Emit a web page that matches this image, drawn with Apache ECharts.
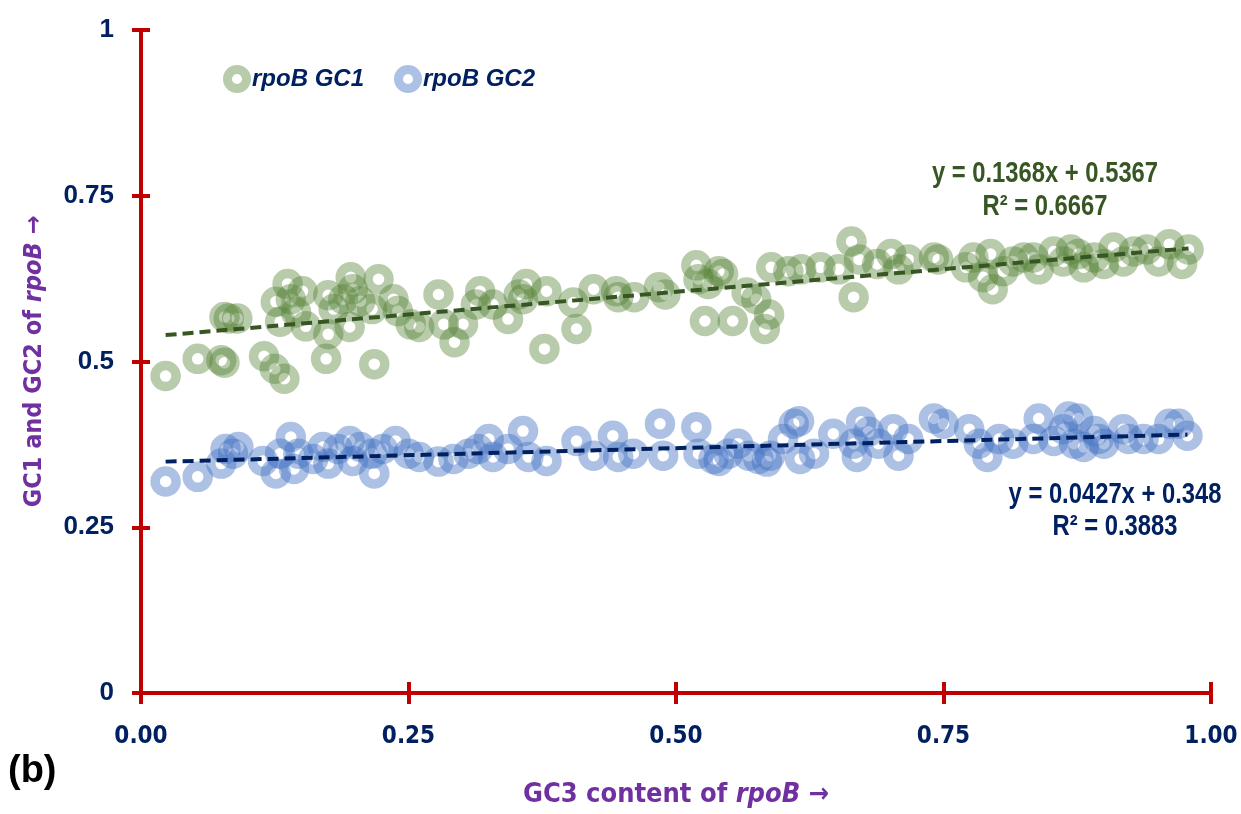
<!DOCTYPE html>
<html>
<head>
<meta charset="utf-8">
<script src="https://cdn.jsdelivr.net/npm/echarts@6/dist/echarts.min.js"></script>
<style>html,body{margin:0;padding:0;background:#fff}#c{width:1241px;height:814px}</style>
</head>
<body>
<div id="c"></div>
<script>
// ---- data ----
const gc1X = [0.023,0.053,0.075,0.078,0.078,0.082,0.09,0.115,0.125,0.134,0.126,0.13,0.137,0.14,0.145,0.154,0.151,0.173,0.175,0.175,0.18,0.189,0.196,0.198,0.195,0.205,0.216,0.218,0.222,0.236,0.24,0.252,0.26,0.278,0.283,0.293,0.301,0.313,0.317,0.329,0.343,0.353,0.36,0.357,0.379,0.377,0.407,0.404,0.423,0.444,0.446,0.461,0.484,0.49,0.519,0.521,0.527,0.53,0.54,0.544,0.553,0.566,0.575,0.583,0.587,0.589,0.605,0.617,0.635,0.652,0.664,0.666,0.671,0.688,0.701,0.708,0.717,0.741,0.745,0.771,0.778,0.794,0.787,0.796,0.806,0.815,0.825,0.834,0.839,0.853,0.862,0.869,0.876,0.881,0.891,0.9,0.909,0.918,0.928,0.94,0.951,0.961,0.973,0.979];
const gc1Y = [0.478,0.504,0.502,0.498,0.567,0.565,0.565,0.508,0.489,0.474,0.59,0.56,0.617,0.594,0.574,0.553,0.606,0.504,0.6,0.541,0.579,0.594,0.627,0.609,0.552,0.591,0.579,0.496,0.624,0.594,0.576,0.556,0.552,0.601,0.556,0.529,0.556,0.586,0.606,0.586,0.564,0.601,0.617,0.594,0.606,0.519,0.549,0.589,0.609,0.606,0.597,0.597,0.612,0.601,0.645,0.624,0.561,0.617,0.636,0.632,0.561,0.604,0.594,0.549,0.571,0.642,0.636,0.639,0.642,0.639,0.681,0.597,0.654,0.647,0.662,0.639,0.654,0.657,0.654,0.642,0.657,0.662,0.627,0.609,0.636,0.651,0.657,0.657,0.639,0.666,0.651,0.669,0.662,0.642,0.657,0.647,0.672,0.651,0.666,0.669,0.651,0.677,0.647,0.669];
const gc2X = [0.023,0.053,0.075,0.079,0.086,0.091,0.114,0.126,0.13,0.14,0.143,0.147,0.161,0.17,0.175,0.184,0.195,0.198,0.205,0.216,0.218,0.226,0.238,0.25,0.26,0.278,0.292,0.306,0.315,0.325,0.329,0.343,0.357,0.362,0.379,0.407,0.423,0.441,0.446,0.46,0.485,0.488,0.519,0.521,0.535,0.54,0.549,0.558,0.568,0.577,0.585,0.588,0.6,0.61,0.615,0.616,0.629,0.647,0.666,0.669,0.673,0.68,0.689,0.703,0.708,0.717,0.741,0.75,0.774,0.783,0.791,0.802,0.815,0.834,0.839,0.853,0.862,0.867,0.872,0.876,0.881,0.891,0.895,0.9,0.918,0.923,0.937,0.951,0.961,0.97,0.978];
const gc2Y = [0.319,0.326,0.346,0.368,0.361,0.371,0.35,0.331,0.361,0.386,0.338,0.361,0.353,0.371,0.346,0.368,0.38,0.35,0.371,0.361,0.331,0.368,0.38,0.361,0.356,0.349,0.353,0.361,0.368,0.383,0.356,0.368,0.395,0.356,0.35,0.38,0.358,0.388,0.356,0.361,0.406,0.358,0.401,0.361,0.353,0.35,0.361,0.376,0.358,0.353,0.349,0.358,0.383,0.406,0.41,0.353,0.361,0.391,0.376,0.356,0.409,0.394,0.376,0.398,0.358,0.383,0.414,0.406,0.398,0.376,0.356,0.383,0.376,0.383,0.414,0.38,0.398,0.417,0.376,0.414,0.371,0.395,0.383,0.376,0.398,0.383,0.383,0.383,0.406,0.406,0.388];
const seriesNames = ['rpoB GC1', 'rpoB GC2'];
const slopes = [0.1368, 0.0427];
const intercepts = [0.5367, 0.348];
const r2 = ['0.6667', '0.3883'];
const yTicks = [0, 0.25, 0.5, 0.75, 1];
const xTicks = [0, 0.25, 0.5, 0.75, 1];

// ---- build ----
const zip = (xs, ys) => xs.map((x, i) => [x, ys[i]]);
const fitLine = (xs, k) => {
  const lo = Math.min(...xs), hi = Math.max(...xs);
  return [[lo, slopes[k] * lo + intercepts[k]], [hi, slopes[k] * hi + intercepts[k]]];
};
const RED = '#C00000', NAVY = '#002060', PURPLE = '#7030A0';
const GREEN_DARK = '#375623';
const NARROW = "'Liberation Sans Narrow','Arial Narrow','DejaVu Sans Condensed',sans-serif";
const ARIAL = "'Liberation Sans',Arial,sans-serif";
const ring = 'path://M0,-10 A10,10 0 1,0 0,10 A10,10 0 1,0 0,-10 Z M0,-3.6 A3.6,3.6 0 1,1 0,3.6 A3.6,3.6 0 1,1 0,-3.6 Z';
const greenRing = 'rgba(84,130,53,0.52)';
const blueRing = 'rgba(68,114,196,0.55)';

const chart = echarts.init(document.getElementById('c'), null, {renderer: 'canvas'});
const grid = {left: 141, right: 30, top: 30, bottom: 121, containLabel: false};
const axisBase = {min: 0, max: 1, interval: 0.25};
const eqText = (x, y, txt, color) => ({
  type: 'text', x: x, y: y, scaleX: 0.82,
  style: {text: txt, font: "bold 29px " + ARIAL, fill: color, align: 'center', verticalAlign: 'middle'}
});
chart.setOption({
  animation: false,
  grid: grid,
  legend: {
    left: 218, top: 60, itemWidth: 28, itemHeight: 28, itemGap: 30,
    data: [
      {name: seriesNames[0], icon: ring, itemStyle: {color: greenRing, borderWidth: 0}},
      {name: seriesNames[1], icon: ring, itemStyle: {color: blueRing, borderWidth: 0}}
    ],
    textStyle: {fontFamily: ARIAL, fontSize: 24, fontWeight: 'bold', fontStyle: 'italic', color: NAVY, padding: [0, 0, 0, -4]}
  },
  xAxis: [
    Object.assign({type: 'value', position: 'bottom',
      axisLine: {show: true, lineStyle: {color: RED, width: 4}},
      axisTick: {show: true, length: 11, lineStyle: {color: RED, width: 4}},
      splitLine: {show: false},
      axisLabel: {margin: 32, color: NAVY, fontFamily: NARROW, fontSize: 24, fontWeight: 'bold',
        formatter: v => v.toFixed(2)},
      name: '{a|GC3 content of }{b|rpoB}{a| →}', nameLocation: 'middle', nameGap: 88,
      nameTextStyle: {rich: {
        a: {fontFamily: NARROW, fontSize: 27, fontWeight: 'bold', color: PURPLE},
        b: {fontFamily: NARROW, fontSize: 27, fontWeight: 'bold', fontStyle: 'italic', color: PURPLE}}}
    }, axisBase),
    Object.assign({type: 'value', position: 'bottom', axisLine: {show: false},
      axisTick: {show: true, inside: true, length: 11, lineStyle: {color: RED, width: 4}},
      axisLabel: {show: false}, splitLine: {show: false}}, axisBase)
  ],
  yAxis: [
    Object.assign({type: 'value', position: 'left',
      axisLine: {show: true, lineStyle: {color: RED, width: 4}},
      axisTick: {show: true, length: 9, lineStyle: {color: RED, width: 4}},
      splitLine: {show: false},
      axisLabel: {margin: 27, color: NAVY, fontFamily: ARIAL, fontSize: 26, fontWeight: 'bold'},
      name: '{a|GC1 and GC2 of }{b|rpoB}{a| →}', nameLocation: 'middle', nameGap: 94,
      nameTextStyle: {rich: {
        a: {fontFamily: NARROW, fontSize: 25, fontWeight: 'bold', color: PURPLE},
        b: {fontFamily: NARROW, fontSize: 25, fontWeight: 'bold', fontStyle: 'italic', color: PURPLE}}}
    }, axisBase),
    Object.assign({type: 'value', position: 'left', axisLine: {show: false},
      axisTick: {show: true, inside: true, length: 9, lineStyle: {color: RED, width: 4}},
      axisLabel: {show: false}, splitLine: {show: false}}, axisBase)
  ],
  series: [
    {name: seriesNames[0], type: 'scatter', data: zip(gc1X, gc1Y), symbol: 'circle', symbolSize: 21,
      itemStyle: {color: 'rgba(0,0,0,0)', borderColor: greenRing, borderWidth: 9.5}, z: 2},
    {name: seriesNames[1], type: 'scatter', data: zip(gc2X, gc2Y), symbol: 'circle', symbolSize: 21,
      itemStyle: {color: 'rgba(0,0,0,0)', borderColor: blueRing, borderWidth: 9.5}, z: 2},
    {name: 'fit1', type: 'line', data: fitLine(gc1X, 0), showSymbol: false, symbol: 'none', z: 5,
      lineStyle: {color: GREEN_DARK, width: 4, type: [11, 6]}},
    {name: 'fit2', type: 'line', data: fitLine(gc2X, 1), showSymbol: false, symbol: 'none', z: 5,
      lineStyle: {color: NAVY, width: 4, type: [11, 6]}}
  ],
  graphic: [
    eqText(1045, 174, 'y = ' + slopes[0] + 'x + ' + intercepts[0], GREEN_DARK),
    eqText(1045, 207, 'R² = ' + r2[0], GREEN_DARK),
    eqText(1115, 495, 'y = ' + slopes[1] + 'x + ' + intercepts[1], NAVY),
    eqText(1115, 527, 'R² = ' + r2[1], NAVY),
    {type: 'text', x: 8, y: 772, style: {text: '(b)', font: "bold 38px " + ARIAL, fill: '#000', verticalAlign: 'middle'}}
  ]
});
</script>
</body>
</html>
